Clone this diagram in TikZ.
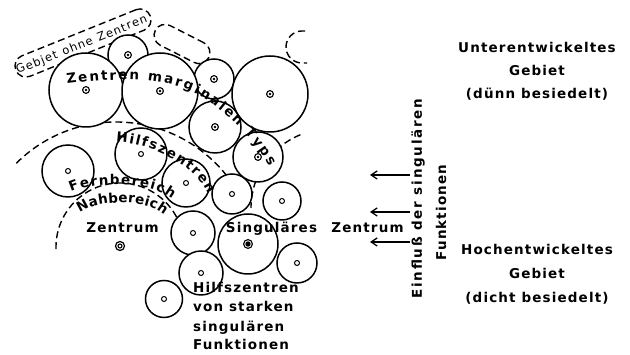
\documentclass[tikz,border=0pt]{standalone}
\usepackage{fontspec}
\setmainfont{DejaVu Sans}
\newfontfamily\labfont{DejaVu Sans}[LetterSpace=8.5]
\newfontfamily\vfont{DejaVu Sans}[LetterSpace=13]
\usetikzlibrary{decorations.text,arrows.meta}
\newcommand\myLab{\labfont\bfseries\fontsize{13.5}{16}\selectfont}
\newcommand\myVert{\vfont\bfseries\fontsize{13.5}{16}\selectfont}
\newcommand\myPath{\bfseries\fontsize{13.5}{16}\selectfont}
\newcommand\myGeb{\fontsize{11.5}{13}\selectfont}
\begin{document}
\begin{tikzpicture}[x=1pt,y=1pt,
  blob/.style={circle,draw,fill=white,line width=1.5pt,inner sep=0pt},
  ring/.style={circle,draw,line width=1.1pt,inner sep=0pt,minimum size=6.8pt,
     path picture={\fill (path picture bounding box.center) circle (1.3pt);}},
  oring/.style={circle,draw,line width=1pt,inner sep=0pt,minimum size=5pt},
  dsh/.style={line width=1.4pt,dash pattern=on 7pt off 4pt},
  lab/.style={font=\myLab,inner sep=0pt,anchor=base},
  arr/.style={line width=1.3pt,-{Straight Barb[length=6pt,width=8pt]}},
  ptext/.style={decorate,decoration={text along path,text align={fit to path},text={#1}}}
]
\fill[white] (0,0) rectangle (630,355);
\useasboundingbox (0,0) rectangle (630,355);

% dashed boundaries
\node[draw,dsh,rounded corners=11pt,minimum width=145pt,minimum height=22pt,rotate=22,inner sep=0pt] (capA) at (83,312) {};
\node[draw,dsh,rounded corners=11pt,minimum width=60pt,minimum height=22pt,rotate=-27,inner sep=0pt] (capB) at (182,311) {};
\draw[dsh] (305,324) -- (302,324) arc[start angle=90,end angle=270,radius=16] -- (307,292);
\coordinate (fc) at (116,92);
\draw[dsh] (fc) ++(135:141) arc[start angle=135,end angle=35,radius=141];
\coordinate (nc) at (120,108);
\draw[dsh] (nc) ++(182:64) arc[start angle=182,end angle=25,radius=64];
\coordinate (rc) at (330,147);
\draw[dsh] (rc) ++(112:79) arc[start angle=112,end angle=180,radius=79];

% circles
\node[blob,minimum size=40pt] (c1) at (128,300) {};
\node[blob,minimum size=40pt] (c4) at (214,276) {};
\node[blob,minimum size=52pt] (c9) at (68,184) {};
\node[blob,minimum size=37pt] (c17) at (164,56) {};
\node[blob,minimum size=38pt] (c12) at (282,154) {};
\node[blob,minimum size=40pt] (c15) at (297,92) {};
\node[blob,minimum size=40pt] (c11) at (232,161) {};
\node[blob,minimum size=44pt] (c13) at (193,122) {};
\node[blob,minimum size=44pt] (c16) at (201,82) {};
\node[blob,minimum size=48pt] (c10) at (186,172) {};
\node[blob,minimum size=50pt] (c7) at (258,198) {};
\node[blob,minimum size=52pt] (c8) at (141,201) {};
\node[blob,minimum size=52pt] (c6) at (215,228) {};
\node[blob,minimum size=60pt] (c14) at (248,111) {};
\node[blob,minimum size=74pt] (c2) at (86,265) {};
\node[blob,minimum size=76pt] (c3) at (160,264) {};
\node[blob,minimum size=76pt] (c5) at (270,261) {};

% centre marks
\foreach \c in {c1,c2,c3,c4,c5,c6,c7} \node[ring] (m\c) at (\c.center) {};
\foreach \c in {c8,c9,c10,c11,c12,c13,c15,c16,c17} \node[oring] (m\c) at (\c.center) {};
\node[circle,draw,line width=1.2pt,minimum size=9pt,inner sep=0pt] (zm) at (120,109) {};
\node[circle,draw,line width=1.1pt,minimum size=4pt,inner sep=0pt] (zmi) at (zm.center) {};
\node[circle,draw,line width=1.1pt,minimum size=8.8pt,inner sep=0pt] (sm) at (c14.center) {};
\node[circle,fill,minimum size=5.4pt,inner sep=0pt] (smi) at (sm.center) {};

% arrows
\coordinate (a1s) at (410,180); \coordinate (a1e) at (370,180);
\coordinate (a2s) at (410,143); \coordinate (a2e) at (370,143);
\coordinate (a3s) at (410,113); \coordinate (a3e) at (370,113);
\draw[arr] (a1s) -- (a1e);
\draw[arr] (a2s) -- (a2e);
\draw[arr] (a3s) -- (a3e);

% texts along paths
\path[ptext={|\myGeb|Gebjet ohne Zentren}] (18,281) -- (148,333);
\path[ptext={|\myPath|Zentren marginalen Typs}] (67,271) .. controls (105,276) and (150,279) .. (186,266) .. controls (215,255.5) and (254,217) .. (269,189);
\path[ptext={|\myPath|Hilfszentren}] (116,213) .. controls (150,212) and (195,190) .. (208,161);
\path[ptext={|\myPath|Fernbereich}] (71,163) .. controls (90,173) and (150,175) .. (172,156);
\path[ptext={|\myPath|Nahbereich}] (80,142) .. controls (96,156) and (148,156) .. (164,140);

% labels
\node[lab] (tz) at (122.5,122) {Zentrum};
\node[lab] (ts) at (271.5,122) {Singuläres};
\node[lab] (tz2) at (367.5,122) {Zentrum};
\node[lab] (u1) at (537,302) {Unterentwickeltes};
\node[lab] (u2) at (537,279) {Gebiet};
\node[lab] (u3) at (537,256) {(dünn besiedelt)};
\node[lab] (h1) at (537,100) {Hochentwickeltes};
\node[lab] (h2) at (537,76) {Gebiet};
\node[lab] (h3) at (537,52) {(dicht besiedelt)};
\node[lab,anchor=base west] (f1) at (193,62) {Hilfszentren};
\node[lab,anchor=base west] (f2) at (193,43) {von starken};
\node[lab,anchor=base west] (f3) at (193,23) {singulären};
\node[lab,anchor=base west] (f4) at (193,5) {Funktionen};
\node[font=\myVert,inner sep=0pt,rotate=90] (e1) at (418,156.5) {Einfluß der singulären};
\node[font=\myLab,inner sep=0pt,rotate=90] (e2) at (441,142.5) {Funktionen};
\end{tikzpicture}
\end{document}
